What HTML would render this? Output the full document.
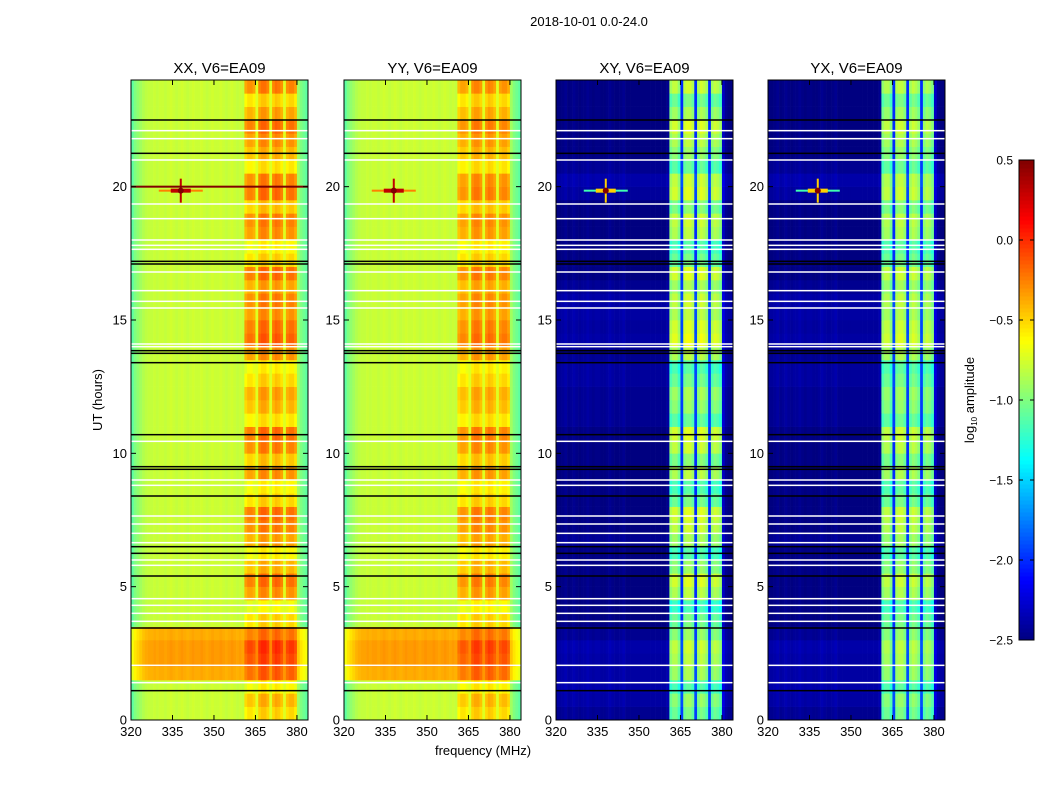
<!DOCTYPE html>
<html><head><meta charset="utf-8"><style>
body{margin:0;background:#fff;width:1050px;height:800px;overflow:hidden;font-family:"Liberation Sans",sans-serif;}
</style></head><body>
<svg id="fig" width="1050" height="800" xmlns="http://www.w3.org/2000/svg">
<text x="589" y="26" font-size="13" text-anchor="middle">2018-10-01 0.0-24.0</text>
<text x="483" y="755" font-size="13" text-anchor="middle">frequency (MHz)</text>
<text transform="translate(102,400) rotate(-90)" font-size="13" text-anchor="middle">UT (hours)</text>
<g id="panels"></g>
<g id="cbar"></g>
<text transform="translate(974,400) rotate(-90)" font-size="13" text-anchor="middle">log<tspan font-size="8" dy="3">10</tspan><tspan dy="-3"> amplitude</tspan></text>
</svg>
<script>
// frequency bins 320..383 MHz (1 MHz each)
const freqs = Array.from({length:64},(_, i)=>320+i);
const profParallel = [-1.1,-1.0,-0.95,-0.9,-0.85,-0.82,-0.8,-0.8,-0.78,-0.8,-0.78,-0.78,-0.8,-0.78,-0.76,-0.78,-0.8,-0.78,-0.76,-0.78,-0.8,-0.78,-0.76,-0.78,-0.78,-0.76,-0.78,-0.8,-0.78,-0.76,-0.78,-0.78,-0.76,-0.78,-0.8,-0.78,-0.76,-0.78,-0.8,-0.78,-0.8,
 -0.62,-0.55,-0.55,-0.6,-0.72,-0.5,-0.45,-0.45,-0.52,-0.72,-0.52,-0.45,-0.48,-0.55,-0.72,-0.55,-0.5,-0.5,-0.58,-0.9,-1.0,-1.05,-1.1];
const profCross = [-2.5,-2.5,-2.48,-2.45,-2.5,-2.48,-2.45,-2.48,-2.5,-2.48,-2.48,-2.45,-2.48,-2.5,-2.48,-2.48,-2.5,-2.5,-2.48,-2.45,-2.48,-2.5,-2.5,-2.48,-2.45,-2.5,-2.5,-2.5,-2.5,-2.5,-2.5,-2.5,-2.5,-2.5,-2.5,-2.5,-2.5,-2.5,-2.5,-2.5,-2.45,
 -1.15,-1.05,-1.05,-1.2,-2.0,-1.05,-1.0,-1.0,-1.1,-2.0,-1.1,-1.0,-1.05,-1.15,-2.0,-1.15,-1.05,-1.1,-1.2,-2.3,-2.45,-2.5,-2.5];
// 48 half-hour rows, band modulation
const bandMod = [0.0,0.1,-0.1,0.15,0.2,0.25,0.1,0.0,-0.15,0.2,0.3,0.1,-0.1,0.15,0.25,0.3,0.0,-0.1,0.2,0.05,0.25,0.3,-0.05,0.1,0.15,0.0,-0.1,0.2,0.35,0.3,0.2,0.25,0.15,0.3,0.0,-0.1,0.2,0.25,0.05,0.3,0.25,-0.05,0.1,0.2,0.3,0.15,0.0,0.25];
// all-frequency offset rows (parallel hands)
const rowOffset = [0,0,0,0.4,0.45,0.45,0.4,0,0,0,0,0,0,0,0,0,0,0,0,0,0,0,0,0,0,0,0,0,0,0,0,0,0,0,0,0,0,0,0,0,0,0,0,0,0,0,0,0];
const crossRowOffset = [0.05,0.1,0.12,0.1,0.1,0.12,0.05,0,0,0,0,0,0,0.05,0,0,0,0,0,0,0,0,0.05,0.05,0.05,0.08,0.08,0.05,0.1,0.08,0.1,0.1,0.05,0,0,0,0,0,0,0.08,0.12,0.05,0,0,0,0,0,0];
const whiteLines = [22.1,21.8,21.0,19.35,18.8,18.0,17.8,17.65,16.8,16.1,15.7,15.45,14.1,14.0,10.45,9.0,8.8,7.65,7.35,7.0,6.65,6.0,5.8,4.55,4.3,4.0,3.7,2.05,1.4];
const blackLines = [22.5,21.25,17.2,17.1,13.85,13.75,13.4,10.7,9.5,9.4,8.4,6.5,6.25,5.4,3.45,1.1];
const rfi = {freq:338, hour:19.85};
const panelTitles = ["XX, V6=EA09","YY, V6=EA09","XY, V6=EA09","YX, V6=EA09"];
const panelX = [131,344,556,768];
const xTicks = [320,335,350,365,380];
const yTicks = [0,5,10,15,20];
const cbTicks = [0.5,0.0,-0.5,-1.0,-1.5,-2.0,-2.5];

const NS="http://www.w3.org/2000/svg";
const W=177,H=640,TOP=80,FMIN=320,FMAX=384,TMAX=24,VMIN=-2.5,VMAX=0.5;
const xs=f=>(f-FMIN)/(FMAX-FMIN)*W, ys=h=>H-h/TMAX*H;
function jet(v){let t=Math.max(0,Math.min(1,(v-VMIN)/(VMAX-VMIN)));
 const c=x=>Math.round(255*Math.max(0,Math.min(1,x)));
 return `rgb(${c(1.5-Math.abs(4*t-3))},${c(1.5-Math.abs(4*t-2))},${c(1.5-Math.abs(4*t-1))})`;}
function mk(tag,attrs,parent){const e=document.createElementNS(NS,tag);for(const k in attrs)e.setAttribute(k,attrs[k]);parent.appendChild(e);return e;}
const panels=document.getElementById('panels');
panelX.forEach((px,p)=>{
 const cross=p>=2;
 const g=mk('g',{transform:`translate(${px},${TOP})`},panels);
 
 
 const prof=cross?profCross:profParallel;
 const rowH=H/bandMod.length;
 for(let r=0;r<bandMod.length;r++){
  for(let i=0;i<freqs.length;i++){
   const inBand=freqs[i]>=361&&freqs[i]<=379&&prof[i]>(cross?-1.5:-0.65);
   let v=prof[i]+(cross?crossRowOffset[r]*(inBand?0:1):rowOffset[r]*(inBand?0.5:1));
   if(inBand) v+=bandMod[r]*(p%2?0.8:1);
   const x0=xs(freqs[i]),x1=xs(freqs[i]+1);
   const rc=mk('rect',{x:x0.toFixed(2),y:(H-(r+1)*rowH).toFixed(2),width:(x1-x0+0.3).toFixed(2),height:(rowH+0.3).toFixed(2),fill:jet(v)},g);
   
   
  }
 }
 const cx=xs(rfi.freq),cy=ys(rfi.hour);
 const st=mk('g',{},g);
 
 
 mk('rect',{x:cx-22,y:cy-1,width:44,height:2,fill:cross?'#40ffb0':'#ff8000'},st);
 mk('rect',{x:cx-10,y:cy-2,width:20,height:4,fill:cross?'#ffd000':'#c00000'},st);
 mk('rect',{x:cx-1,y:cy-12,width:2,height:24,fill:cross?'#ffd000':'#c00000'},st);
 mk('circle',{cx:cx,cy:cy,r:3,fill:'#800000'},st);
 if(p===0){const l=mk('rect',{x:0,y:ys(20.0)-1,width:W,height:2,fill:'#800000'},g);
  }
 whiteLines.forEach(h=>{const l=mk('rect',{x:0,y:ys(h)-0.75,width:W,height:1.5,fill:'#fff'},g);
  });
 blackLines.forEach(h=>{const l=mk('rect',{x:0,y:ys(h)-0.75,width:W,height:1.5,fill:'#000'},g);
  });
 mk('rect',{x:0,y:0,width:W,height:H,fill:'none',stroke:'#000','stroke-width':1},g);
 xTicks.forEach(t=>{const x=xs(t);
  mk('line',{x1:x,x2:x,y1:H,y2:H-5,stroke:'#000'},g);mk('line',{x1:x,x2:x,y1:0,y2:5,stroke:'#000'},g);
  const tx=mk('text',{x:x,y:H+16,'font-size':13,'text-anchor':'middle'},g);tx.textContent=t;
  });
 yTicks.forEach(t=>{const y=ys(t);
  mk('line',{x1:0,x2:5,y1:y,y2:y,stroke:'#000'},g);mk('line',{x1:W,x2:W-5,y1:y,y2:y,stroke:'#000'},g);
  const tx=mk('text',{x:-4,y:y+4.5,'font-size':13,'text-anchor':'end'},g);tx.textContent=t;
  });
 const tt=mk('text',{x:W/2,y:-7,'font-size':15,'text-anchor':'middle'},g);tt.textContent=panelTitles[p];
 
});
const cb=document.getElementById('cbar');
const CBX=1019,CBY=160,CBW=15,CBH=480;
for(let i=0;i<120;i++){const v=VMIN+(i+0.5)/120*(VMAX-VMIN);
 mk('rect',{x:CBX,y:CBY+CBH-(i+1)*CBH/120,width:CBW,height:CBH/120+0.5,fill:jet(v)},cb);}
mk('rect',{x:CBX,y:CBY,width:CBW,height:CBH,fill:'none',stroke:'#000'},cb);
cbTicks.forEach(t=>{const y=CBY+(VMAX-t)/(VMAX-VMIN)*CBH;
 mk('line',{x1:CBX,x2:CBX+4,y1:y,y2:y,stroke:'#000'},cb);mk('line',{x1:CBX+CBW,x2:CBX+CBW-4,y1:y,y2:y,stroke:'#000'},cb);
 const tx=mk('text',{x:1013,y:y+4.5,'font-size':12,'text-anchor':'end'},cb);tx.textContent=(t<0?'\u2212':'')+Math.abs(t).toFixed(1);
 });
</script>
</body></html>
